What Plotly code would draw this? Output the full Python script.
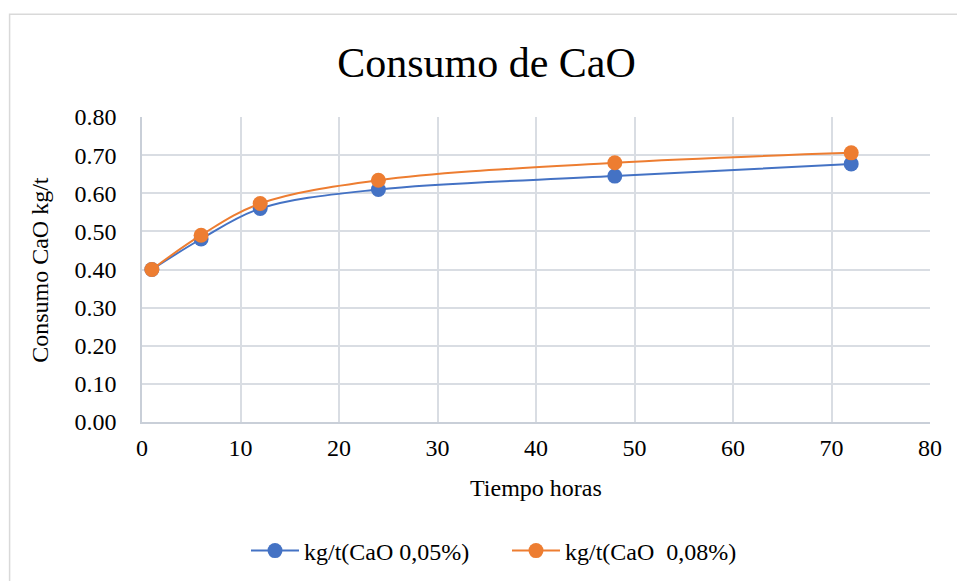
import plotly.graph_objects as go

# Hours of contact and CaO consumption (kg/t) for the two lime doses
horas = [1, 6, 12, 24, 48, 72]
cao_005 = [0.40, 0.48, 0.56, 0.61, 0.645, 0.677]
cao_008 = [0.40, 0.49, 0.573, 0.634, 0.68, 0.706]

serie_005 = "kg/t(CaO 0,05%)"
serie_008 = "kg/t(CaO  0,08%)"

x_ticks = [0, 10, 20, 30, 40, 50, 60, 70, 80]
y_ticks = [0.0, 0.1, 0.2, 0.3, 0.4, 0.5, 0.6, 0.7, 0.8]

FONT = "Liberation Serif"
AZUL = "#4472C4"
NARANJA = "#ED7D31"
GRID = "#D9DDE3"
FS = 24

W, H = 957, 581
L, R, T, B = 141.5, 27, 116.7, 159.3
pw, ph = W - L - R, H - T - B

fig = go.Figure()
for nombre, vals, color in [(serie_005, cao_005, AZUL), (serie_008, cao_008, NARANJA)]:
    fig.add_trace(go.Scatter(
        x=horas, y=vals, name=nombre, mode="lines+markers",
        line=dict(color=color, width=2, shape="spline", smoothing=1.0),
        marker=dict(color=color, size=15),
    ))

fig.update_layout(
    width=W, height=H,
    margin=dict(l=L, r=R, t=T, b=B, pad=0),
    paper_bgcolor="white", plot_bgcolor="white",
    font=dict(family=FONT, size=FS, color="#000000"),
    title=dict(text="Consumo de CaO", x=486.5 / W, xanchor="center",
               y=1 - 62 / H, yanchor="middle", font=dict(size=42, family=FONT)),
    showlegend=True,
    legend=dict(orientation="h", xref="container", yref="container",
                x=507 / W, xanchor="center", y=1 - 551 / H, yanchor="middle",
                font=dict(size=FS, family=FONT), itemwidth=48,
                entrywidth=198, entrywidthmode="pixels",
                bgcolor="rgba(0,0,0,0)"),
    xaxis=dict(range=[0, 80], tickvals=x_ticks, ticktext=[str(v) for v in x_ticks],
               showgrid=True, gridcolor=GRID, gridwidth=1.5,
               showline=True, linecolor="#C9CFD8", linewidth=1.5,
               zeroline=False, ticks="", ticklabelstandoff=3,
               tickfont=dict(size=FS, family=FONT)),
    yaxis=dict(range=[0, 0.8], tickvals=y_ticks, ticktext=[f"{v:.2f}" for v in y_ticks],
               showgrid=True, gridcolor=GRID, gridwidth=1.5,
               showline=True, linecolor="#C9CFD8", linewidth=1.5,
               zeroline=False, ticks="", ticklabelstandoff=19,
               tickfont=dict(size=FS, family=FONT)),
    annotations=[
        dict(text="Tiempo horas", xref="paper", yref="paper",
             x=0.5, y=(T + ph - 488) / ph, xanchor="center", yanchor="middle",
             showarrow=False, font=dict(size=FS, family=FONT)),
        dict(text="Consumo CaO kg/t", xref="paper", yref="paper",
             x=(40 - L) / pw, y=(T + ph - 270) / ph, xanchor="center", yanchor="middle",
             textangle=-90, showarrow=False, font=dict(size=FS, family=FONT)),
    ],
    shapes=[
        dict(type="rect", xref="paper", yref="paper",
             x0=(9 - L) / pw, x1=(W + 20 - L) / pw,
             y0=(T + ph - (H + 20)) / ph, y1=(T + ph - 14) / ph,
             line=dict(color="#D9D9D9", width=1.5), fillcolor="rgba(0,0,0,0)",
             layer="below"),
    ],
)

fig.write_html("out.html")
